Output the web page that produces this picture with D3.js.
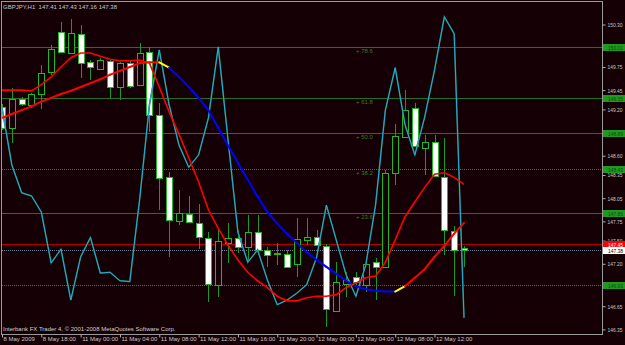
<!DOCTYPE html>
<html>
<head>
<meta charset="utf-8">
<script src="https://cdn.jsdelivr.net/npm/d3@7"></script>
<style>
    body { margin: 0; background: #140005; }
    svg { display: block; font-family: "Liberation Sans", Arial, sans-serif; }
</style>
</head>
<body>
<div id="chart"></div>
<script>
const symbol = "GBPJPY,H1";
const timeLabels = ["8 May 2009", "8 May 18:00", "11 May 00:00", "11 May 04:00", "11 May 08:00", "11 May 12:00",
    "11 May 16:00", "11 May 20:00", "12 May 00:00", "12 May 04:00", "12 May 08:00", "12 May 12:00"];

// hourly candles, 8 May 14:00 .. 12 May 15:00
const openP = [149.23, 148.96, 149.34, 149.26, 149.40, 149.68, 150.20, 149.93, 150.18, 149.81, 149.72, 149.83,
    149.49, 149.80, 149.52, 149.94, 149.13, 148.32, 147.76, 147.85, 147.73, 147.54, 146.93, 147.48,
    147.54, 147.42, 147.61, 147.38, 147.34, 147.33, 147.20, 147.51, 147.55, 147.43, 146.60, 146.94,
    147.03, 146.93, 147.22, 147.16, 148.38, 148.84, 149.22, 148.70, 148.78, 148.33, 147.63, 147.41];
const highP = [149.27, 149.48, 149.36, 149.41, 149.78, 150.03, 150.33, 150.37, 150.29, 149.84, 149.87, 149.84,
    149.81, 149.84, 150.06, 150.01, 149.28, 148.39, 148.16, 148.08, 147.98, 147.61, 147.64, 147.73,
    147.64, 147.83, 147.83, 147.42, 147.47, 147.38, 147.79, 147.79, 147.64, 147.46, 147.22, 147.09,
    147.09, 147.29, 147.28, 148.42, 149.01, 149.45, 149.28, 148.87, 148.87, 148.83, 147.69, 147.43];
const lowP = [148.93, 148.77, 149.24, 149.22, 149.20, 149.65, 149.94, 149.92, 149.61, 149.58, 149.71, 149.35,
    149.32, 149.48, 149.50, 148.91, 147.90, 147.29, 147.70, 147.73, 147.39, 146.71, 146.77, 147.21,
    147.34, 147.25, 147.32, 147.16, 147.19, 147.15, 147.03, 147.44, 147.43, 146.38, 146.59, 146.77,
    146.90, 146.84, 146.73, 147.15, 148.22, 148.83, 148.71, 148.35, 148.33, 147.32, 146.78, 147.16];
const closeP = [148.96, 149.34, 149.27, 149.40, 149.67, 149.98, 149.94, 150.19, 149.80, 149.74, 149.84, 149.49,
    149.80, 149.50, 149.93, 149.13, 148.32, 147.76, 147.86, 147.74, 147.55, 146.94, 147.50, 147.54,
    147.42, 147.61, 147.38, 147.32, 147.33, 147.16, 147.52, 147.55, 147.44, 146.62, 146.97, 146.99,
    146.97, 147.20, 147.16, 148.38, 148.86, 149.19, 148.73, 148.78, 148.34, 147.64, 147.39, 147.38];

const fastMA = [149.45, 149.45, 149.45, 149.44, 149.52, 149.62, 149.75, 149.87, 149.93, 149.93, 149.89, 149.85,
    149.83, 149.83, 149.84, 149.80, 149.49, 149.17, 148.88, 148.57, 148.26, 147.90, 147.66, 147.44,
    147.25, 147.09, 146.98, 146.89, 146.78, 146.72, 146.72, 146.76, 146.78, 146.78, 146.80, 146.89,
    146.95, 147.02, 147.04, 147.22, 147.51, 147.81, 148.00, 148.19, 148.36, 148.38, 148.32, 148.23];
const slowMA = [149.09, 149.14, 149.19, 149.24, 149.30, 149.35, 149.40, 149.44, 149.49, 149.54, 149.59, 149.65,
    149.70, 149.75, 149.80, 149.81, 149.81, 149.74, 149.62, 149.49, 149.35, 149.19, 148.96, 148.73,
    148.51, 148.29, 148.07, 147.87, 147.72, 147.59, 147.47, 147.35, 147.25, 147.16, 147.07, 146.98,
    146.91, 146.87, 146.85, 146.84, 146.84, 146.91, 147.02, 147.13, 147.29, 147.43, 147.59, 147.73];
const oscLine = [149.22, 148.48, 148.12, 148.08, 147.87, 147.21, 147.39, 146.73, 147.29, 147.54, 147.08, 147.09,
    146.98, 146.97, 148.03, 149.26, 149.97, 149.26, 148.74, 148.45, 148.61, 149.09, 150.01, 148.80,
    147.61, 147.22, 147.38, 146.99, 146.67, 146.73, 146.82, 146.93, 147.28, 147.96, 147.51, 147.06,
    146.78, 147.18, 147.96, 149.19, 149.74, 149.00, 148.61, 149.10, 149.71, 150.40, 150.18, 146.50];

const priceTicks = [150.30, 149.75, 149.45, 149.20, 148.60, 148.35, 148.05, 147.75, 147.50, 147.20,
    146.65, 146.35];
const fibLow = 146.93, fibHigh = 150.85;
const fibLevels = [0, 23.6, 38.2, 50.0, 61.8, 78.6];
const askPrice = 147.45;
const watermark = "Interbank FX Trader 4, \u00a9 2001-2008 MetaQuotes Software Corp.";

function drawChart(container) {
    const W = 625, H = 345;
    const plotRight = 602, plotBottom = 334;
    const bg = "#140005";

    const svg = d3.select(container).append("svg")
        .attr("width", W)
        .attr("height", H)
        .style("background", bg);

    const x = d3.scaleLinear().domain([0, openP.length - 1]).range([2, 464]);
    const y = d3.scaleLinear().domain([146.35, 150.30]).range([329.4, 24.5]);
    const px = i => Math.round(x(i)) + 0.5;

    svg.append("clipPath").attr("id", "plotclip")
        .append("rect").attr("x", 2).attr("y", 2).attr("width", plotRight - 2).attr("height", plotBottom - 2);

    const plot = svg.append("g").attr("clip-path", "url(#plotclip)");

    // fibo levels
    const fibPrice = lv => fibLow + (fibHigh - fibLow) * lv / 100;
    plot.append("g").selectAll("line")
        .data(fibLevels)
        .join("line")
        .attr("x1", 0).attr("x2", plotRight)
        .attr("y1", d => Math.round(y(fibPrice(d))) + 0.5)
        .attr("y2", d => Math.round(y(fibPrice(d))) + 0.5)
        .attr("stroke", d => (d === 0 || d === 38.2) ? "#40687e" : "#2b6e1c")
        .attr("stroke-dasharray", d => (d === 0 || d === 38.2) ? "1,1" : null)
        .attr("shape-rendering", "crispEdges");

    plot.append("g").selectAll("text")
        .data(fibLevels.filter(d => d > 0))
        .join("text")
        .attr("x", 356)
        .attr("y", d => y(fibPrice(d)) + 6)
        .attr("font-size", 6)
        .attr("fill", "#3c7a2c")
        .text(d => "+ " + d.toFixed(1));

    // ask / bid lines
    const bid = closeP[closeP.length - 1];
    plot.append("line")
        .attr("x1", 0).attr("x2", plotRight)
        .attr("y1", Math.round(y(askPrice)) + 0.5).attr("y2", Math.round(y(askPrice)) + 0.5)
        .attr("stroke", "#b00000")
        .attr("shape-rendering", "crispEdges");
    plot.append("line")
        .attr("x1", 0).attr("x2", plotRight)
        .attr("y1", Math.round(y(bid)) + 0.5).attr("y2", Math.round(y(bid)) + 0.5)
        .attr("stroke", "#6e7c96")
        .attr("stroke-dasharray", "1,1")
        .attr("shape-rendering", "crispEdges");

    // candles
    const bars = d3.range(openP.length).map(i => ({ i: i, o: openP[i], h: highP[i], l: lowP[i], c: closeP[i] }));

    plot.append("g").selectAll("line")
        .data(bars)
        .join("line")
        .attr("x1", d => px(d.i)).attr("x2", d => px(d.i))
        .attr("y1", d => y(d.h)).attr("y2", d => y(d.l))
        .attr("stroke", "#1c9a1c")
        .attr("shape-rendering", "crispEdges");

    plot.append("g").selectAll("rect")
        .data(bars)
        .join("rect")
        .attr("x", d => px(d.i) - 3)
        .attr("width", 6)
        .attr("y", d => Math.round(y(Math.max(d.o, d.c))) + 0.5)
        .attr("height", d => Math.max(1, Math.round(Math.abs(y(d.o) - y(d.c)))))
        .attr("fill", d => d.c < d.o ? "#ffffff" : bg)
        .attr("stroke", "#22b822")
        .attr("shape-rendering", "crispEdges");

    // oscillator style line (cyan)
    const line = d3.line().x((d, i) => x(i)).y(d => y(d));
    plot.append("path")
        .datum(oscLine)
        .attr("d", line)
        .attr("fill", "none")
        .attr("stroke", "#1d6a50")
        .attr("stroke-width", 1.6);
    plot.append("path")
        .datum(oscLine)
        .attr("d", line)
        .attr("fill", "none")
        .attr("stroke", "#22b8e8")
        .attr("stroke-width", 0.9);

    // slow MA, coloured by direction: red up, blue down, yellow where it turns
    let prevDir = 0;
    const segs = [];
    for (let i = 0; i < slowMA.length - 1; i++) {
        let dir = Math.sign(slowMA[i + 1] - slowMA[i]);
        if (dir === 0) dir = prevDir || 1;
        let col = dir > 0 ? "#ff0000" : "#0000ff";
        if (prevDir !== 0 && dir !== prevDir) col = "#ffff00";
        segs.push({ i: i, col: col });
        prevDir = dir;
    }
    plot.append("g").selectAll("line")
        .data(segs)
        .join("line")
        .attr("x1", d => x(d.i)).attr("x2", d => x(d.i + 1))
        .attr("y1", d => y(slowMA[d.i])).attr("y2", d => y(slowMA[d.i + 1]))
        .attr("stroke", d => d.col)
        .attr("stroke-width", 2)
        .attr("stroke-linecap", "round");

    // fast MA
    plot.append("path")
        .datum(fastMA)
        .attr("d", line)
        .attr("fill", "none")
        .attr("stroke", "#ff0000")
        .attr("stroke-width", 1.6);

    // frame
    svg.append("path")
        .attr("d", `M1.5,${plotBottom + 0.5}V1.5H${plotRight + 0.5}V${plotBottom + 0.5}H1.5`)
        .attr("fill", "none")
        .attr("stroke", "#9a9a9a")
        .attr("shape-rendering", "crispEdges");

    // price axis
    const yAxis = d3.axisRight(y)
        .tickValues(priceTicks)
        .tickSize(3)
        .tickFormat(d3.format(".2f"));
    const ya = svg.append("g")
        .attr("transform", `translate(${plotRight + 0.5},0)`)
        .call(yAxis);
    ya.select(".domain").remove();
    ya.selectAll(".tick line").attr("stroke", "#b0b0b0");
    ya.selectAll(".tick text")
        .attr("x", 5)
        .attr("fill", "#c8c8c8")
        .attr("font-size", 6)
        .attr("textLength", 15)
        .attr("lengthAdjust", "spacingAndGlyphs")
        .attr("font-family", "Liberation Sans, Arial, sans-serif");

    // time axis
    const xAxis = d3.axisBottom(x)
        .tickValues(d3.range(0, openP.length, 4))
        .tickSize(3)
        .tickFormat((d, i) => timeLabels[i]);
    const xa = svg.append("g")
        .attr("transform", `translate(0,${plotBottom + 0.5})`)
        .call(xAxis);
    xa.select(".domain").remove();
    xa.selectAll(".tick line").attr("stroke", "#b0b0b0");
    xa.selectAll(".tick text")
        .attr("text-anchor", "start")
        .attr("x", 1)
        .attr("y", 2)
        .attr("fill", "#c8c8c8")
        .attr("font-size", 6)
        .attr("font-family", "Liberation Sans, Arial, sans-serif");

    // price boxes on the axis
    const boxes = fibLevels.map(lv => ({ p: fibPrice(lv), fill: "#1f9a1f", txt: "#0c4a0c" }))
        .concat([{ p: askPrice, fill: "#ff0000", txt: "#ffffff" }, { p: bid, fill: "#ffffff", txt: "#000000" }]);
    const bx = svg.append("g").selectAll("g")
        .data(boxes)
        .join("g")
        .attr("transform", d => `translate(${plotRight + 1},${Math.round(y(d.p)) - 3})`);
    bx.append("rect")
        .attr("width", W - plotRight)
        .attr("height", 7)
        .attr("fill", d => d.fill);
    bx.append("text")
        .attr("x", 5)
        .attr("y", 5.8)
        .attr("font-size", 6)
        .attr("textLength", 15)
        .attr("lengthAdjust", "spacingAndGlyphs")
        .attr("fill", d => d.txt)
        .text(d => d.p.toFixed(2));

    // header and watermark
    const n = closeP.length - 1;
    svg.append("text")
        .attr("x", 3)
        .attr("y", 9)
        .attr("font-size", 6)
        .attr("fill", "#c8c8c8")
        .style("white-space", "pre")
        .text(`${symbol}  ${openP[n].toFixed(2)} ${highP[n].toFixed(2)} ${lowP[n].toFixed(2)} ${closeP[n].toFixed(2)}`);

    svg.append("text")
        .attr("x", 3)
        .attr("y", 331)
        .attr("font-size", 6)
        .attr("fill", "#d0d0d0")
        .text(watermark);
}

drawChart("#chart");
</script>
</body>
</html>
